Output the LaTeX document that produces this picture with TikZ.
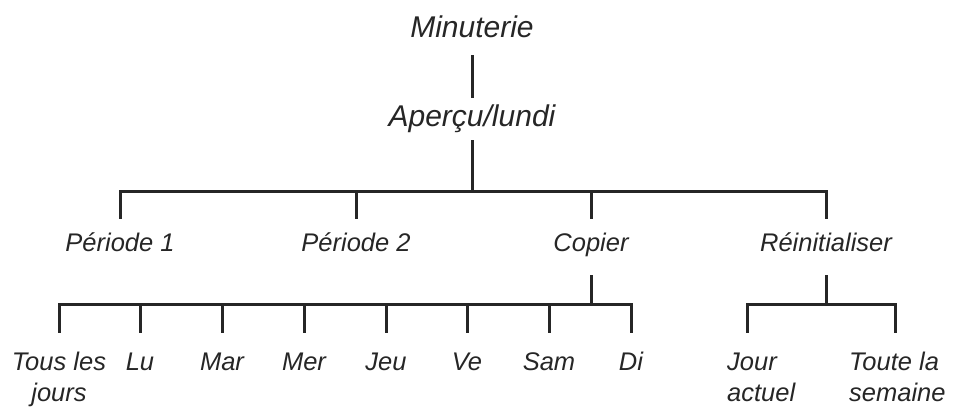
\documentclass[tikz,border=0pt]{standalone}
\usepackage{fontspec}
\setmainfont{Liberation Sans}
\begin{document}
\begin{tikzpicture}[x=1pt,y=-1pt,
  conn/.style={line width=3pt, draw=black!85},
  topnode/.style={font=\fontsize{30}{34}\selectfont\itshape, inner sep=0pt, anchor=base, text=black!85},
  lvlnode/.style={font=\fontsize{25.5}{30.5}\selectfont\itshape, inner sep=0pt, anchor=base, text=black!85},
  leftnode/.style={lvlnode, anchor=base west, align=left},
  ]
\useasboundingbox (0,0) rectangle (954,408);
% nodes
\node[topnode] (min) at (472,37) {Minuterie};
\node[topnode] (ap) at (472,126) {Aperçu/lundi};
\node[lvlnode] (p1) at (120,251) {Période 1};
\node[lvlnode] (p2) at (356,251) {Période 2};
\node[lvlnode] (cop) at (591,251) {Copier};
\node[lvlnode] (re) at (826,251) {Réinitialiser};
\node[lvlnode, align=center] (tous) at (59,401) {Tous les\\jours};
\node[lvlnode] (lu) at (140,370.5) {Lu};
\node[lvlnode] (mar) at (222,370.5) {Mar};
\node[lvlnode] (mer) at (304,370.5) {Mer};
\node[lvlnode] (jeu) at (386,370.5) {Jeu};
\node[lvlnode] (ve) at (467,370.5) {Ve};
\node[lvlnode] (sam) at (549,370.5) {Sam};
\node[lvlnode] (di) at (631,370.5) {Di};
\node[leftnode] (jour) at (727,401) {Jour\\actuel};
\node[leftnode] (toute) at (849,401) {Toute la\\semaine};
% bar points
\coordinate (bar1) at (472,191);
\coordinate (bar2) at (591,304);
\coordinate (bar3) at (826,304);
\coordinate (drop) at (0,333);
\coordinate (jourtop) at (747,333);
\coordinate (toutetop) at (895,333);
% connectors
\draw[conn] ([yshift=-18]min.base) -- ([yshift=28]ap.base);
\draw[conn] ([yshift=-14]ap.base) -- (bar1);
\foreach \n in {p1,p2,cop,re}
  \draw[conn] (bar1) -| ([yshift=32]\n.base);
\draw[conn] ([yshift=-24]cop.base) -- (bar2);
\foreach \n in {tous,lu,mar,mer,jeu,ve,sam,di}
  \draw[conn] (bar2) -| (\n.base |- drop);
\draw[conn] ([yshift=-24]re.base) -- (bar3);
\draw[conn] (bar3) -| (jourtop);
\draw[conn] (bar3) -| (toutetop);
\end{tikzpicture}
\end{document}
